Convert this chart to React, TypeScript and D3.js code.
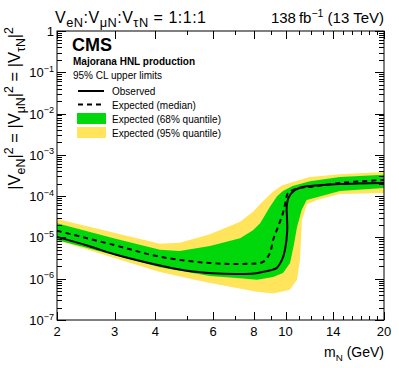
import { useEffect, useRef } from 'react'
import * as d3 from 'd3'

// axis ticks
const massLabels = [2, 3, 4, 6, 8, 10, 14, 20]
const massMinor = [5, 7, 9, 11, 12, 13, 15, 16, 17, 18, 19]
const limitDecades = [-7, -6, -5, -4, -3, -2, -1, 0]

// [mass (GeV), |V|^2]
const observed: [number, number][] = [
  [2.0, 1.03e-5], [2.5, 6.2e-6], [3.0, 3.9e-6], [4.0, 2.2e-6], [5.0, 1.55e-6],
  [6.0, 1.35e-6], [7.0, 1.3e-6], [8.0, 1.33e-6], [8.5, 1.46e-6], [9.0, 1.6e-6],
  [9.4, 1.83e-6], [9.75, 2.85e-6], [9.96, 5.0e-6], [10.12, 1.5e-5], [10.1, 3.1e-5],
  [10.08, 5.5e-5], [10.24, 9.6e-5], [10.69, 1.41e-4], [11.3, 1.67e-4], [11.88, 1.77e-4],
  [14.66, 1.97e-4], [20, 2.09e-4],
]

const expected: [number, number][] = [
  [2.0, 1.45e-5], [3.0, 6.5e-6], [4.13, 3.4e-6], [5.87, 2.4e-6], [7.6, 2.3e-6],
  [8.53, 2.55e-6], [8.96, 4.2e-6], [9.16, 8.7e-6], [9.48, 1.8e-5], [9.82, 3.9e-5],
  [10.03, 8.1e-5], [10.17, 1.19e-4], [11.0, 1.58e-4], [11.88, 1.67e-4], [14.66, 2.09e-4],
  [20, 2.47e-4],
]

const band68Upper: [number, number][] = [
  [2.0, 2.2e-5], [3.0, 9.4e-6], [4.13, 5.0e-6], [4.75, 4.7e-6], [5.87, 6.2e-6],
  [7.26, 9.6e-6], [7.95, 1.5e-5], [8.36, 2.2e-5], [8.96, 5.5e-5], [9.42, 1.0e-4],
  [9.82, 1.34e-4], [10.5, 1.77e-4], [11.88, 2.3e-4], [14.66, 2.9e-4], [20, 3.3e-4],
]

const band68Lower: [number, number][] = [
  [2.0, 8.7e-6], [4.13, 1.9e-6], [5.87, 1.17e-6], [7.26, 1.03e-6], [8.18, 9.4e-7],
  [9.16, 1.1e-6], [9.82, 1.38e-6], [10.32, 2.4e-6], [10.6, 6.6e-6], [10.84, 1.8e-5],
  [11.2, 4.6e-5], [11.6, 8.1e-5], [14.66, 1.34e-4], [20, 1.58e-4],
]

const band95Upper: [number, number][] = [
  [2.0, 2.8e-5], [4.13, 7.0e-6], [4.75, 7.4e-6], [5.87, 1.2e-5], [7.26, 2.4e-5],
  [7.95, 4.2e-5], [8.53, 7.5e-5], [9.16, 1.3e-4], [9.75, 1.8e-4], [10.7, 2.3e-4],
  [11.88, 2.9e-4], [14.66, 3.4e-4], [20, 3.85e-4],
]

const band95Lower: [number, number][] = [
  [2.0, 8.5e-6], [4.13, 1.46e-6], [5.87, 7.9e-7], [8.18, 4.8e-7], [9.16, 4.4e-7],
  [10.3, 5.4e-7], [10.84, 9.4e-7], [11.07, 2.85e-6], [11.22, 2.65e-5], [11.63, 6.4e-5],
  [12.48, 8.1e-5], [14.66, 1.13e-4], [20, 1.19e-4],
]

type Part = [string, 'n' | 'sub' | 'sup']

function rich(g: any, x: number, y: number, parts: Part[], size: number, anchor: string, rotate = false, small = 0.7) {
  const t = g.append('text')
    .attr('x', x).attr('y', y)
    .attr('font-size', size)
    .attr('text-anchor', anchor)
    .style('white-space', 'pre')
  if (rotate) t.attr('transform', `rotate(-90,${x},${y})`)
  let shift = 0
  parts.forEach(([s, k]) => {
    const target = k === 'sub' ? size * 0.28 : k === 'sup' ? -size * 0.42 : 0
    t.append('tspan')
      .attr('dy', target - shift)
      .attr('font-size', k === 'n' ? size : size * small)
      .text(s)
    shift = target
  })
  return t
}

export default function App() {
  const svgRef = useRef<SVGSVGElement>(null)

  useEffect(() => {
    if (!svgRef.current) return
    const W = 399
    const H = 368
    const margin = { top: 31, right: 15, bottom: 48, left: 57 }

    const root = d3.select(svgRef.current)
    root.selectAll('*').remove()
    const svg = root.append('g').attr('font-family', 'Liberation Sans, Arial, Helvetica, sans-serif')

    const x = d3.scaleLog().domain([2, 20]).range([margin.left, W - margin.right])
    const y = d3.scaleLog().domain([1e-7, 1]).range([H - margin.bottom, margin.top])
    const [x0, x1] = x.range()
    const [y0, y1] = y.range()

    const line = d3.line<[number, number]>()
      .x(d => x(d[0]))
      .y(d => y(d[1]))
      .curve(d3.curveCatmullRom.alpha(0.5))

    const band = (up: [number, number][], lo: [number, number][]) =>
      d3.line<[number, number]>().x(d => x(d[0])).y(d => y(d[1]))([...up, ...lo.slice().reverse()]) + 'Z'

    const plot = svg.append('g')
    plot.append('path').attr('d', band(band95Upper, band95Lower)).attr('fill', '#ffe45c')
    plot.append('path').attr('d', band(band68Upper, band68Lower)).attr('fill', '#00d80b')
    plot.append('path').datum(expected).attr('d', line)
      .attr('fill', 'none').attr('stroke', '#000').attr('stroke-width', 2).attr('stroke-dasharray', '5,4')
    plot.append('path').datum(observed).attr('d', line)
      .attr('fill', 'none').attr('stroke', '#000').attr('stroke-width', 2)

    // frame
    svg.append('rect')
      .attr('x', x0).attr('y', y1).attr('width', x1 - x0).attr('height', y0 - y1)
      .attr('fill', 'none').attr('stroke', '#000').attr('stroke-width', 1)

    // x ticks (bottom + top)
    const ticks = svg.append('g').attr('stroke', '#000').attr('stroke-width', 1)
    const xt = [...massLabels.map(m => [m, 8]), ...massMinor.map(m => [m, 4])]
    xt.forEach(([m, len]) => {
      const px = Math.round(x(m)) + 0.5
      ticks.append('line').attr('x1', px).attr('x2', px).attr('y1', y0).attr('y2', y0 - len)
      ticks.append('line').attr('x1', px).attr('x2', px).attr('y1', y1).attr('y2', y1 + len)
    })

    // y ticks (left + right)
    limitDecades.forEach(e => {
      const yt: [number, number][] = [[Math.pow(10, e), 9]]
      if (e < 0) for (let k = 2; k <= 9; k++) yt.push([k * Math.pow(10, e), 5])
      yt.forEach(([v, len]) => {
        const py = Math.round(y(v)) + 0.5
        ticks.append('line').attr('x1', x0).attr('x2', x0 + len).attr('y1', py).attr('y2', py)
        ticks.append('line').attr('x1', x1).attr('x2', x1 - len).attr('y1', py).attr('y2', py)
      })
    })

    // x tick labels
    massLabels.forEach(m => {
      svg.append('text').attr('x', x(m)).attr('y', y0 + 16)
        .attr('text-anchor', 'middle').attr('font-size', 13).text(m)
    })

    // y tick labels
    limitDecades.forEach(e => {
      const py = y(Math.pow(10, e)) + 5
      if (e === 0) {
        svg.append('text').attr('x', x0 - 3).attr('y', py).attr('text-anchor', 'end').attr('font-size', 13).text('1')
      } else {
        rich(svg, x0 - 3, py, [['10', 'n'], ['\u2212' + -e, 'sup']], 13, 'end')
      }
    })

    // axis titles
    rich(svg, x1, H - 11, [['m', 'n'], ['N', 'sub'], [' (GeV)', 'n']], 14, 'end')
    rich(svg, 20, 27, [
      ['|V', 'n'], ['eN', 'sub'], ['|', 'n'], ['2', 'sup'], [' = |V', 'n'], ['\u03bcN', 'sub'],
      ['|', 'n'], ['2', 'sup'], [' = |V', 'n'], ['\u03c4N', 'sub'], ['|', 'n'], ['2', 'sup'],
    ], 16.5, 'end', true, 0.75)

    // header
    rich(svg, 55, 23, [
      ['V', 'n'], ['eN', 'sub'], [':', 'n'], ['V', 'n'], ['\u03bcN', 'sub'], [':', 'n'], ['V', 'n'], ['\u03c4N', 'sub'], [' = 1:1:1', 'n'],
    ], 16, 'start', false, 0.8).attr('textLength', 151).attr('lengthAdjust', 'spacing')
    rich(svg, x1, 23, [['138\u2009fb', 'n'], ['\u22121', 'sup'], [' (13 TeV)', 'n']], 15, 'end')

    // CMS label and legend
    svg.append('text').attr('x', 72).attr('y', 51).attr('font-size', 18).attr('font-weight', 'bold').text('CMS')
    svg.append('text').attr('x', 73).attr('y', 65).attr('font-size', 10).attr('font-weight', 'bold').text('Majorana HNL production')
    svg.append('text').attr('x', 73).attr('y', 79).attr('font-size', 10).text('95% CL upper limits')

    const leg = svg.append('g')
    leg.append('line').attr('x1', 78).attr('x2', 104).attr('y1', 91).attr('y2', 91)
      .attr('stroke', '#000').attr('stroke-width', 2)
    leg.append('line').attr('x1', 78).attr('x2', 104).attr('y1', 104.5).attr('y2', 104.5)
      .attr('stroke', '#000').attr('stroke-width', 2).attr('stroke-dasharray', '5,4')
    leg.append('rect').attr('x', 77).attr('y', 113).attr('width', 29).attr('height', 11).attr('fill', '#00d80b')
    leg.append('rect').attr('x', 77).attr('y', 127).attr('width', 29).attr('height', 11).attr('fill', '#ffe45c')
    const legText = ['Observed', 'Expected (median)', 'Expected (68% quantile)', 'Expected (95% quantile)']
    legText.forEach((s, i) => {
      leg.append('text').attr('x', 112).attr('y', 95 + i * 14).attr('font-size', 10).text(s)
    })
  }, [])

  return (
    <svg ref={svgRef} width={399} height={368} style={{ position: 'absolute', left: 0, top: 0, background: '#fff' }} />
  )
}
